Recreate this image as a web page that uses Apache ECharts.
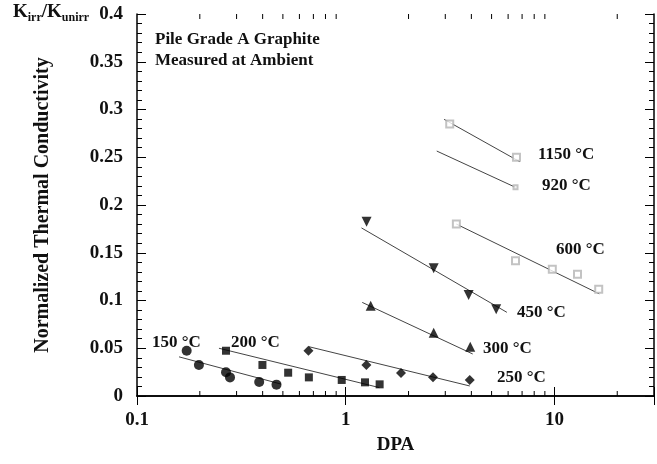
<!DOCTYPE html>
<html>
<head>
<meta charset="utf-8">
<script src="https://cdn.jsdelivr.net/npm/echarts@6/dist/echarts.min.js"></script>
<style>
html,body{margin:0;padding:0;background:#fff;}
#chart{width:657px;height:464px;}
</style>
</head>
<body>
<div id="chart"></div>
<script>
// ---- data ----
var xTickLabels = [0.1, 1, 10];
var xMinorTicks = [0.2,0.3,0.4,0.5,0.6,0.7,0.8,0.9,2,3,4,5,6,7,8,9,20];

var pts150 = [[0.173,0.0474],[0.198,0.0325],[0.267,0.0248],[0.279,0.0195],[0.385,0.0147],[0.466,0.0119]];
var fit150 = [[0.159,0.041],[0.49,0.0125]];

var pts200 = [[0.267,0.0474],[0.399,0.0325],[0.530,0.0244],[0.666,0.0195],[0.957,0.0168],[1.237,0.0143],[1.454,0.0122]];
var fit200 = [[0.247,0.050],[1.45,0.0088]];

var pts250 = [[0.663,0.0474],[1.256,0.0325],[1.84,0.0240],[2.62,0.0196],[3.93,0.0168]];
var fit250 = [[0.667,0.0516],[3.93,0.0105]];

var pts300 = [[1.317,0.0946],[2.64,0.0663],[3.95,0.0516]];
var fit300 = [[1.20,0.098],[4.06,0.044]];

var pts450 = [[1.259,0.1825],[2.64,0.1337],[3.88,0.1058],[5.26,0.0908]];
var fit450 = [[1.19,0.176],[5.92,0.0876]];

var pts600 = [[3.39,0.180],[6.51,0.1417],[9.77,0.1327],[12.9,0.1274],[16.3,0.1117]];
var fit600 = [[3.39,0.180],[16.4,0.107]];

var pts920 = [[6.51,0.2185]];
var fit920 = [[2.73,0.2565],[6.51,0.2185]];

var pts1150 = [[3.15,0.2848],[6.58,0.250]];
var fit1150 = [[2.96,0.2897],[6.83,0.2453]];

var tempLabels = ['150 °C','200 °C','250 °C','300 °C','450 °C','600 °C','920 °C','1150 °C'];

// ---- chart ----
var FONT = 'Liberation Serif';
var chart = echarts.init(document.getElementById('chart'), null, {renderer:'canvas'});

function fitLine(d){
  return {type:'line', data:d, symbol:'none', silent:true, xAxisIndex:0, yAxisIndex:0,
    lineStyle:{color:'#444', width:1}, z:2, animation:false};
}
function scatter(d, sym, size, opts){
  var s = {type:'scatter', data:d, symbol:sym, symbolSize:size, xAxisIndex:0, yAxisIndex:0,
    itemStyle:{color:'#000'}, z:3, animation:false};
  if (opts) for (var k in opts) s[k]=opts[k];
  return s;
}
var openStyle = {itemStyle:{color:'#b4b4b4', borderWidth:1}};

var axisLineStyle = {lineStyle:{color:'#000', width:1.5}};
var tickLine = {color:'#000', width:1};

var option = {
  animation:false,
  backgroundColor:'#fff',
  grid:{left:137, right:2, top:14, bottom:68, containLabel:false},
  xAxis:[
    {type:'log', logBase:10, min:0.1, max:30, position:'bottom',
     axisLine:axisLineStyle, axisTick:{inside:true, length:9, lineStyle:tickLine},
     splitLine:{show:false},
     axisLabel:{fontFamily:FONT, fontWeight:'bold', fontSize:19, color:'#111', margin:15,
       formatter:function(v){ for (var i=0;i<xTickLabels.length;i++){ if (Math.abs(v-xTickLabels[i])<1e-9) return String(xTickLabels[i]); } return ''; }},
     name:'DPA', nameLocation:'middle', nameGap:40,
     nameTextStyle:{fontFamily:FONT, fontWeight:'bold', fontSize:19, color:'#111'}},
    {type:'log', logBase:10, min:0.1, max:30, position:'top',
     axisLine:axisLineStyle, axisTick:{inside:true, length:9, lineStyle:tickLine},
     splitLine:{show:false}, axisLabel:{show:false}}
  ],
  yAxis:[
    {type:'value', min:0, max:0.4, interval:0.05, position:'left',
     axisLine:axisLineStyle, axisTick:{inside:true, length:9, lineStyle:tickLine},
     minorTick:{show:true, splitNumber:5, length:5, lineStyle:{color:'#000', width:1}},
     splitLine:{show:false}, minorSplitLine:{show:false},
     axisLabel:{fontFamily:FONT, fontWeight:'bold', fontSize:19, color:'#111', margin:14},
     name:'Normalized Thermal Conductivity', nameLocation:'middle', nameGap:84,
     nameTextStyle:{fontFamily:FONT, fontWeight:'bold', fontSize:20, color:'#111'}},
    {type:'value', min:0, max:0.4, interval:0.05, position:'right',
     axisLine:axisLineStyle, axisTick:{inside:true, length:9, lineStyle:tickLine},
     minorTick:{show:true, splitNumber:5, length:5, lineStyle:{color:'#000', width:1}},
     splitLine:{show:false}, axisLabel:{show:false}}
  ],
  graphic:[
    {type:'text', left:13, top:3, style:{
      text:'{k|K}{s|irr}{k|/K}{s|unirr}', fill:'#111',
      rich:{k:{fontFamily:FONT, fontWeight:'bold', fontSize:19, fill:'#111'},
            s:{fontFamily:FONT, fontWeight:'bold', fontSize:12, fill:'#111', padding:[10,0,0,0]}}}},
    {type:'text', left:155, top:31, style:{text:'Pile Grade A Graphite', fontFamily:FONT, fontWeight:'bold', fontSize:17, fill:'#111'}},
    {type:'text', left:155, top:52, style:{text:'Measured at Ambient', fontFamily:FONT, fontWeight:'bold', fontSize:17, fill:'#111'}},
    {type:'text', left:152, top:334, style:{text:tempLabels[0], fontFamily:FONT, fontWeight:'bold', fontSize:17, fill:'#111'}},
    {type:'text', left:231, top:334, style:{text:tempLabels[1], fontFamily:FONT, fontWeight:'bold', fontSize:17, fill:'#111'}},
    {type:'text', left:497, top:369, style:{text:tempLabels[2], fontFamily:FONT, fontWeight:'bold', fontSize:17, fill:'#111'}},
    {type:'text', left:483, top:340, style:{text:tempLabels[3], fontFamily:FONT, fontWeight:'bold', fontSize:17, fill:'#111'}},
    {type:'text', left:517, top:304, style:{text:tempLabels[4], fontFamily:FONT, fontWeight:'bold', fontSize:17, fill:'#111'}},
    {type:'text', left:556, top:241, style:{text:tempLabels[5], fontFamily:FONT, fontWeight:'bold', fontSize:17, fill:'#111'}},
    {type:'text', left:542, top:177, style:{text:tempLabels[6], fontFamily:FONT, fontWeight:'bold', fontSize:17, fill:'#111'}},
    {type:'text', left:538, top:146, style:{text:tempLabels[7], fontFamily:FONT, fontWeight:'bold', fontSize:17, fill:'#111'}}
  ],
  series:[
    fitLine(fit150), fitLine(fit200), fitLine(fit250), fitLine(fit300),
    fitLine(fit450), fitLine(fit600), fitLine(fit920), fitLine(fit1150),
    scatter(pts150, 'circle', 10),
    scatter(pts200, 'rect', 8),
    scatter(pts250, 'diamond', 10),
    scatter(pts300, 'triangle', 10),
    scatter(pts450, 'triangle', 10, {symbolRotate:180}),
    scatter(pts600, 'emptyRect', 7, openStyle),
    scatter(pts920, 'emptyRect', 4, openStyle),
    scatter(pts1150, 'emptyRect', 7, openStyle),
    {type:'custom', coordinateSystem:'cartesian2d', xAxisIndex:0, yAxisIndex:0, silent:true, clip:false,
     data:xMinorTicks.map(function(v){return [v,0];}),
     renderItem:function(params, api){
       var b = api.coord([api.value(0), 0]);
       var t = api.coord([api.value(0), 0.4]);
       return {type:'group', children:[
         {type:'line', shape:{x1:b[0], y1:b[1], x2:b[0], y2:b[1]-5}, style:{stroke:'#000', lineWidth:1}},
         {type:'line', shape:{x1:t[0], y1:t[1], x2:t[0], y2:t[1]+5}, style:{stroke:'#000', lineWidth:1}}
       ]};
     }, animation:false}
  ]
};
chart.setOption(option);
</script>
</body>
</html>
